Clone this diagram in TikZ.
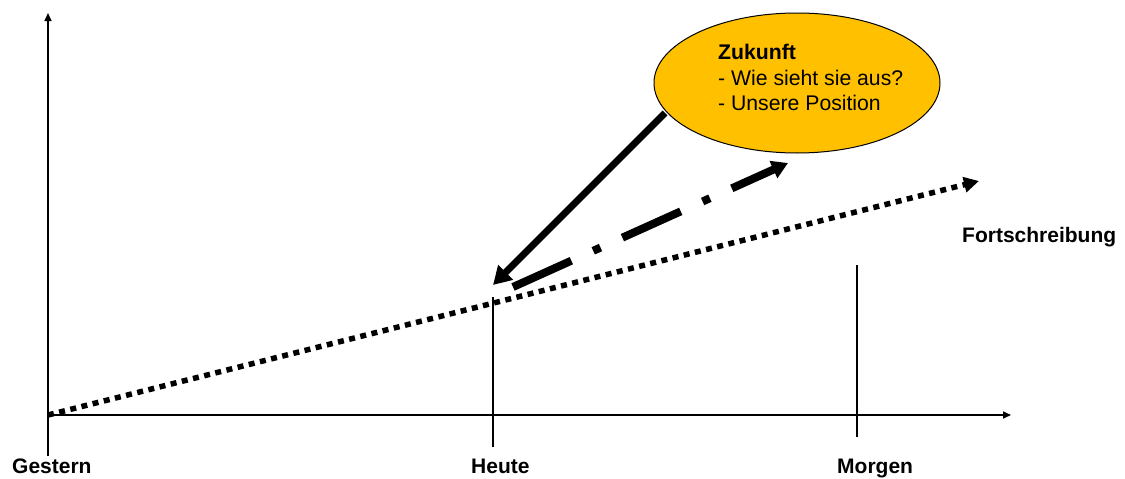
\documentclass[tikz,border=0pt]{standalone}
\usepackage{fontspec}
\setmainfont{Liberation Sans}
\usetikzlibrary{arrows.meta,shapes.geometric}
\definecolor{zukfill}{HTML}{FFC000}
\begin{document}
\begin{tikzpicture}[x=1pt,y=-1pt,
  axis/.style={line width=1.6pt,-{Triangle[length=8pt,width=7pt]}},
  tick/.style={line width=1.5pt},
  lbl/.style={anchor=base west,inner sep=0pt,font=\fontsize{21}{24}\selectfont\bfseries},
  ztxt/.style={anchor=base west,inner sep=0pt,font=\fontsize{21.2}{24}\selectfont},
  trend/.style={line width=5.5pt,dash pattern=on 6pt off 5.5pt,-{Triangle[length=15pt,width=15pt]}},
  future/.style={line width=8pt,dash pattern=on 64pt off 24pt on 8pt off 24pt,-{Triangle[length=16pt,width=18pt]}},
  pointer/.style={line width=7pt,-{Triangle[length=18pt,width=20pt]}}
]
\useasboundingbox (0,0) rectangle (1125,479);
% coordinates
\coordinate (ybot) at (48,456);
\coordinate (ytop) at (48,13);
\coordinate (O) at (48,415);
\coordinate (xend) at (1011,415);
\coordinate (htop) at (493,297);
\coordinate (hbot) at (493,447);
\coordinate (mtop) at (857,265);
\coordinate (mbot) at (857,437);
\coordinate (trendend) at (979,181);
\coordinate (fstart) at (513,287);
\coordinate (fend) at (788,163);
\coordinate (pstart) at (665,113);
\coordinate (ptip) at (493,285);
% axes
\draw[axis] (ybot) -- (ytop);
\draw[axis] (O) -- (xend);
\draw[tick] (htop) -- (hbot);
\draw[tick] (mtop) -- (mbot);
% lines
\draw[trend] (O) -- (trendend);
\draw[future] (fstart) -- (fend);
% ellipse
\node[ellipse,draw,line width=1pt,fill=zukfill,minimum width=286pt,minimum height=140pt,inner sep=0pt] (zuk) at (797,83) {};
\draw[pointer] (pstart) -- (ptip);
\node[ztxt,font=\fontsize{21.2}{24}\selectfont\bfseries] (zuk1) at (718,59) {Zukunft};
\node[ztxt] (zuk2) at (718,85) {- Wie sieht sie aus?};
\node[ztxt] (zuk3) at (718,110) {- Unsere Position};
% labels
\node[lbl] (gestern) at (12,473) {Gestern};
\node[lbl] (heute) at (471,473) {Heute};
\node[lbl] (morgen) at (837,473) {Morgen};
\node[lbl] (fort) at (962,242) {Fortschreibung};
\end{tikzpicture}
\end{document}
